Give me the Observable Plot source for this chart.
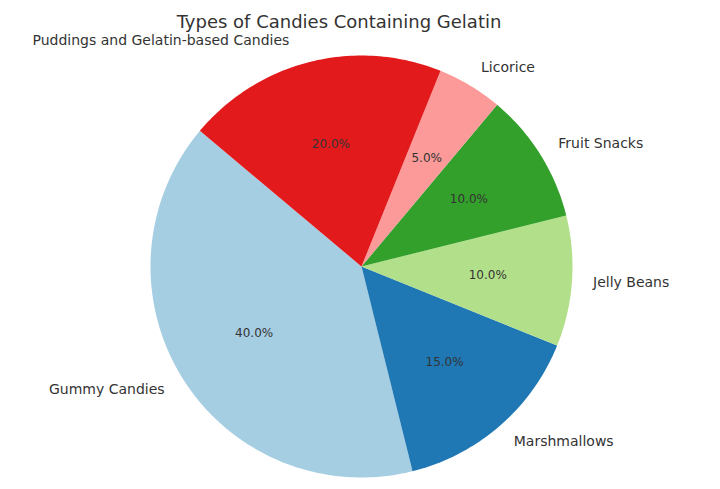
<!DOCTYPE html>
<html><head><meta charset="utf-8">
<script src="https://cdn.jsdelivr.net/npm/d3@7"></script>
<script src="https://cdn.jsdelivr.net/npm/@observablehq/plot@0.6"></script>
<style>
body{margin:0;background:#fff;font-family:"DejaVu Sans",sans-serif}
#wrap{position:relative;width:720px;height:489px}
#title{position:absolute;left:0;width:678px;top:13px;line-height:18px;text-align:center;font-size:18px;color:#333}
</style></head><body>
<div id="wrap"><div id="title">Types of Candies Containing Gelatin</div></div>
<script>
const categories = ["Gummy Candies","Marshmallows","Jelly Beans","Fruit Snacks","Licorice","Puddings and Gelatin-based Candies"];
const shares = [40,15,10,10,5,20];
const colors = ["#a6cee3","#1f78b4","#b2df8a","#33a02c","#fb9a99","#e31a1c"];
const startAngle = 140;

const total = d3.sum(shares);
const rad = d => d * Math.PI / 180;
let cum = 0;
const slices = categories.map((c, i) => {
  const a0 = startAngle + 360 * cum / total;
  cum += shares[i];
  const a1 = startAngle + 360 * cum / total;
  return {label: c, share: shares[i], a0, a1, mid: (a0 + a1) / 2};
});
const polyPts = [];
for (const s of slices) {
  polyPts.push({label: s.label, x: 0, y: 0});
  const n = Math.max(2, Math.ceil(s.a1 - s.a0));
  for (let k = 0; k <= n; k++) {
    const a = rad(s.a0 + (s.a1 - s.a0) * k / n);
    polyPts.push({label: s.label, x: Math.cos(a), y: Math.sin(a)});
  }
  polyPts.push({label: s.label, x: 0, y: 0});
}
const labelPts = slices.map(s => ({
  label: s.label,
  pct: (100 * s.share / total).toFixed(1) + "%",
  lx: 1.1 * Math.cos(rad(s.mid)), ly: 1.1 * Math.sin(rad(s.mid)),
  px: 0.6 * Math.cos(rad(s.mid)), py: 0.6 * Math.sin(rad(s.mid))
}));

const W = 720, H = 489, R = 211, cx = 361, cy = 266;
const chart = Plot.plot({
  width: W, height: H,
  margin: 0,
  style: {fontFamily: "DejaVu Sans, sans-serif", background: "#fff"},
  x: {domain: [-cx / R, (W - cx) / R], axis: null},
  y: {domain: [-(H - cy) / R, cy / R], axis: null},
  color: {domain: categories, range: colors},
  marks: [
    Plot.line(polyPts, {x: "x", y: "y", z: "label", fill: "label", stroke: "none", curve: "linear"}),
    Plot.text(labelPts, {x: "px", y: "py", text: "pct", fontSize: 12, fill: "#333"}),
    Plot.text(labelPts.filter(d => d.lx >= 0), {x: "lx", y: "ly", text: "label", fontSize: 14, fill: "#333", textAnchor: "start"}),
    Plot.text(labelPts.filter(d => d.lx < 0 && d.ly < 0.9), {x: "lx", y: "ly", text: "label", fontSize: 14, fill: "#333", textAnchor: "end"}),
    Plot.text(labelPts.filter(d => d.lx < 0 && d.ly >= 0.9), {x: "lx", y: "ly", text: "label", fontSize: 14, fill: "#333", textAnchor: "end", dx: -16, dy: -1})
  ]
});
document.getElementById("wrap").prepend(chart);
</script>
</body></html>
